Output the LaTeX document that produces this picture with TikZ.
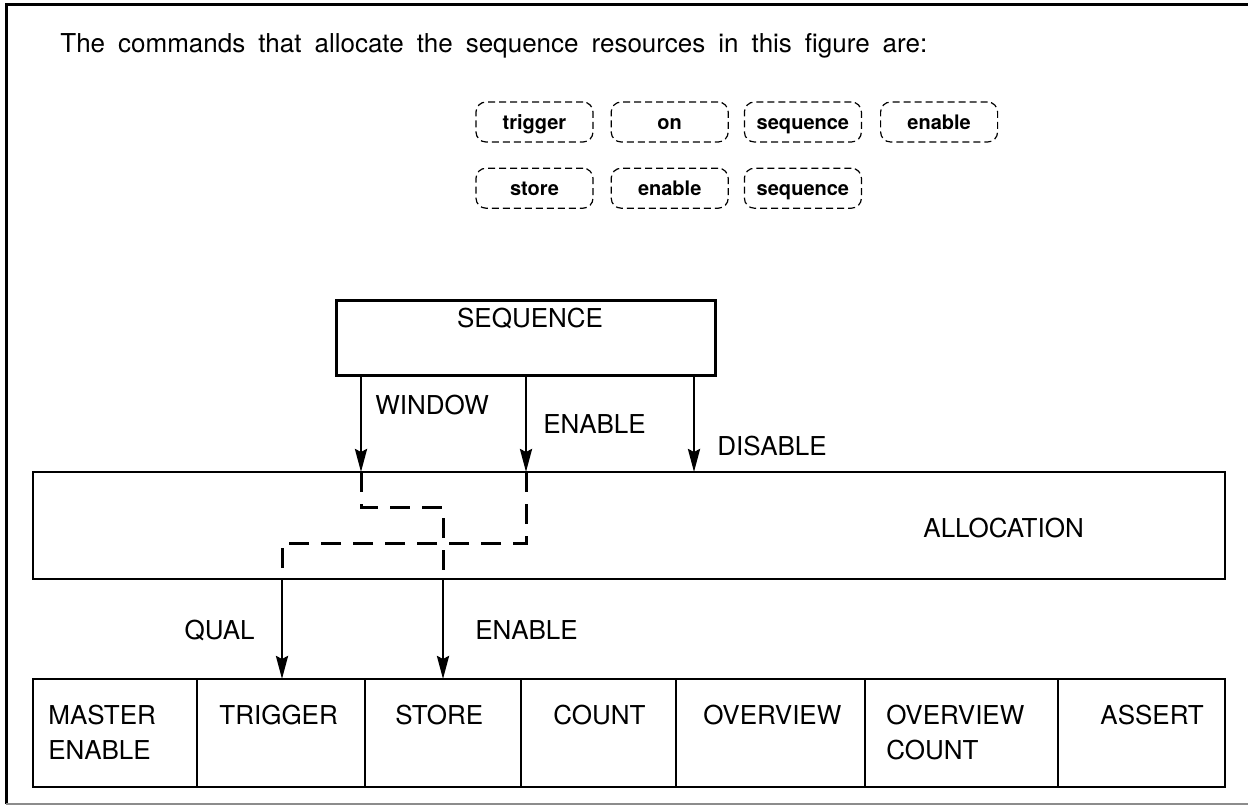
\documentclass[tikz,border=0pt]{standalone}
\usepackage{fontspec}
\setmainfont{TeX Gyre Heros}
\usetikzlibrary{positioning,arrows.meta}

\begin{document}
\begin{tikzpicture}[x=0.5pt,y=-0.5pt,
cmdnode/.style={rectangle, rounded corners=5pt, draw, dash pattern=on 3.5pt off 2pt, line width=0.6pt, minimum width=58.5pt, minimum height=20pt, inner sep=0pt, text height=8.5pt, text depth=1pt, font=\fontsize{10}{12}\selectfont\bfseries},
blocknode/.style={rectangle, draw, line width=1.5pt, inner sep=0pt, outer sep=0pt},
cellnode/.style={rectangle, draw, line width=1.4pt, minimum height=54pt, inner sep=0pt, outer sep=0pt},
labelnode/.style={inner sep=0pt, font=\fontsize{13}{17.5}\selectfont},
sig/.style={-{Stealth[length=11.5pt,width=6pt,inset=1.5pt]}, line width=1.4pt},
route/.style={line width=1.5pt, dash pattern=on 10pt off 6pt},
]
\useasboundingbox (0,0) rectangle (1248,808);

%Frame
\draw[line width=1.5pt] (1248,5) -- (6,5) -- (6,804);
\draw[line width=1pt, black!45] (6,804) -- (1248,804);

%Title and commands
\node[labelnode, anchor=base west] (title) at (60,53) {\spaceskip=0.5em The commands that allocate the sequence resources in this figure are:};
\node[cmdnode]                          (ktrigger) at (534.5,122) {trigger};
\node[cmdnode, right=8.5pt of ktrigger] (kon)      {on};
\node[cmdnode, right=7.5pt of kon]      (kseq)     {sequence};
\node[cmdnode, right=9pt of kseq]       (kenable)  {enable};
\node[cmdnode, below=12.5pt of ktrigger] (kstore)  {store};
\node[cmdnode, right=8.5pt of kstore]   (kenabletwo) {enable};
\node[cmdnode, right=7.5pt of kenabletwo] (kseqtwo) {sequence};

%Blocks
\node[blocknode, minimum width=189.5pt, minimum height=37.5pt, anchor=north west] (seq) at (336,300) {};
\node[labelnode] (seqtext) at (530,318) {SEQUENCE};
\node[blocknode, line width=1.2pt, minimum width=596pt, minimum height=53.5pt, anchor=north west] (alloc) at (33,472) {};
\node[labelnode, anchor=west] (lalloc) at (923,528) {ALLOCATION};

%Resource cells
\node[cellnode, minimum width=82pt, anchor=north west] (cmaster) at (33,679) {};
\node[cellnode, minimum width=84pt, right=0pt of cmaster]    (ctrigger)  {};
\node[cellnode, minimum width=78pt, right=0pt of ctrigger]   (cstore)    {};
\node[cellnode, minimum width=77.5pt, right=0pt of cstore]   (ccount)    {};
\node[cellnode, minimum width=94.5pt, right=0pt of ccount]   (coverview) {};
\node[cellnode, minimum width=96.5pt, right=0pt of coverview] (covcount) {};
\node[cellnode, minimum width=83.5pt, right=0pt of covcount] (cassert)   {};
\node[labelnode, align=left, anchor=north west] (tmaster)   at ([shift={(15,26)}]cmaster.north west)   {MASTER\\ENABLE};
\node[labelnode, align=left, anchor=north west] (ttrigger)  at ([shift={(22,26)}]ctrigger.north west)  {TRIGGER};
\node[labelnode, align=left, anchor=north west] (tstore)    at ([shift={(30,26)}]cstore.north west)    {STORE};
\node[labelnode, align=left, anchor=north west] (tcount)    at ([shift={(32,26)}]ccount.north west)    {COUNT};
\node[labelnode, align=left, anchor=north west] (toverview) at ([shift={(27,26)}]coverview.north west) {OVERVIEW};
\node[labelnode, align=left, anchor=north west] (tovcount)  at ([shift={(21,26)}]covcount.north west)  {OVERVIEW\\COUNT};
\node[labelnode, align=left, anchor=north west] (tassert)   at ([shift={(42,26)}]cassert.north west)   {ASSERT};

%Signal positions
\coordinate (xwin)   at (361,0);
\coordinate (xen)    at (526,0);
\coordinate (xdis)   at (694,0);
\coordinate (xqual)  at (282,0);
\coordinate (xstore) at (443,0);
\coordinate (ywin)   at (0,507);
\coordinate (yen)    at (0,543);

%Lines
\draw[sig] (seq.south -| xwin) -- (alloc.north -| xwin);
\draw[sig] (seq.south -| xen)  -- (alloc.north -| xen);
\draw[sig] (seq.south -| xdis) -- (alloc.north -| xdis);
\node[labelnode, anchor=west] (lwindow)  at (375,405) {WINDOW};
\node[labelnode, anchor=west] (lenable)  at (543,424) {ENABLE};
\node[labelnode, anchor=west] (ldisable) at (717,446) {DISABLE};

\draw[route] (alloc.north -| xwin) |- (ywin -| xstore) -- (alloc.south -| xstore);
\draw[route] (alloc.north -| xen)  |- (yen -| xqual)   -- (alloc.south -| xqual);

\draw[sig] (alloc.south -| xqual)  -- (ctrigger.north -| xqual);
\draw[sig] (alloc.south -| xstore) -- (cstore.north -| xstore);
\node[labelnode, anchor=east] (lqual)  at (255,630) {QUAL};
\node[labelnode, anchor=west] (lstore) at (475,630) {ENABLE};
\end{tikzpicture}
\end{document}
